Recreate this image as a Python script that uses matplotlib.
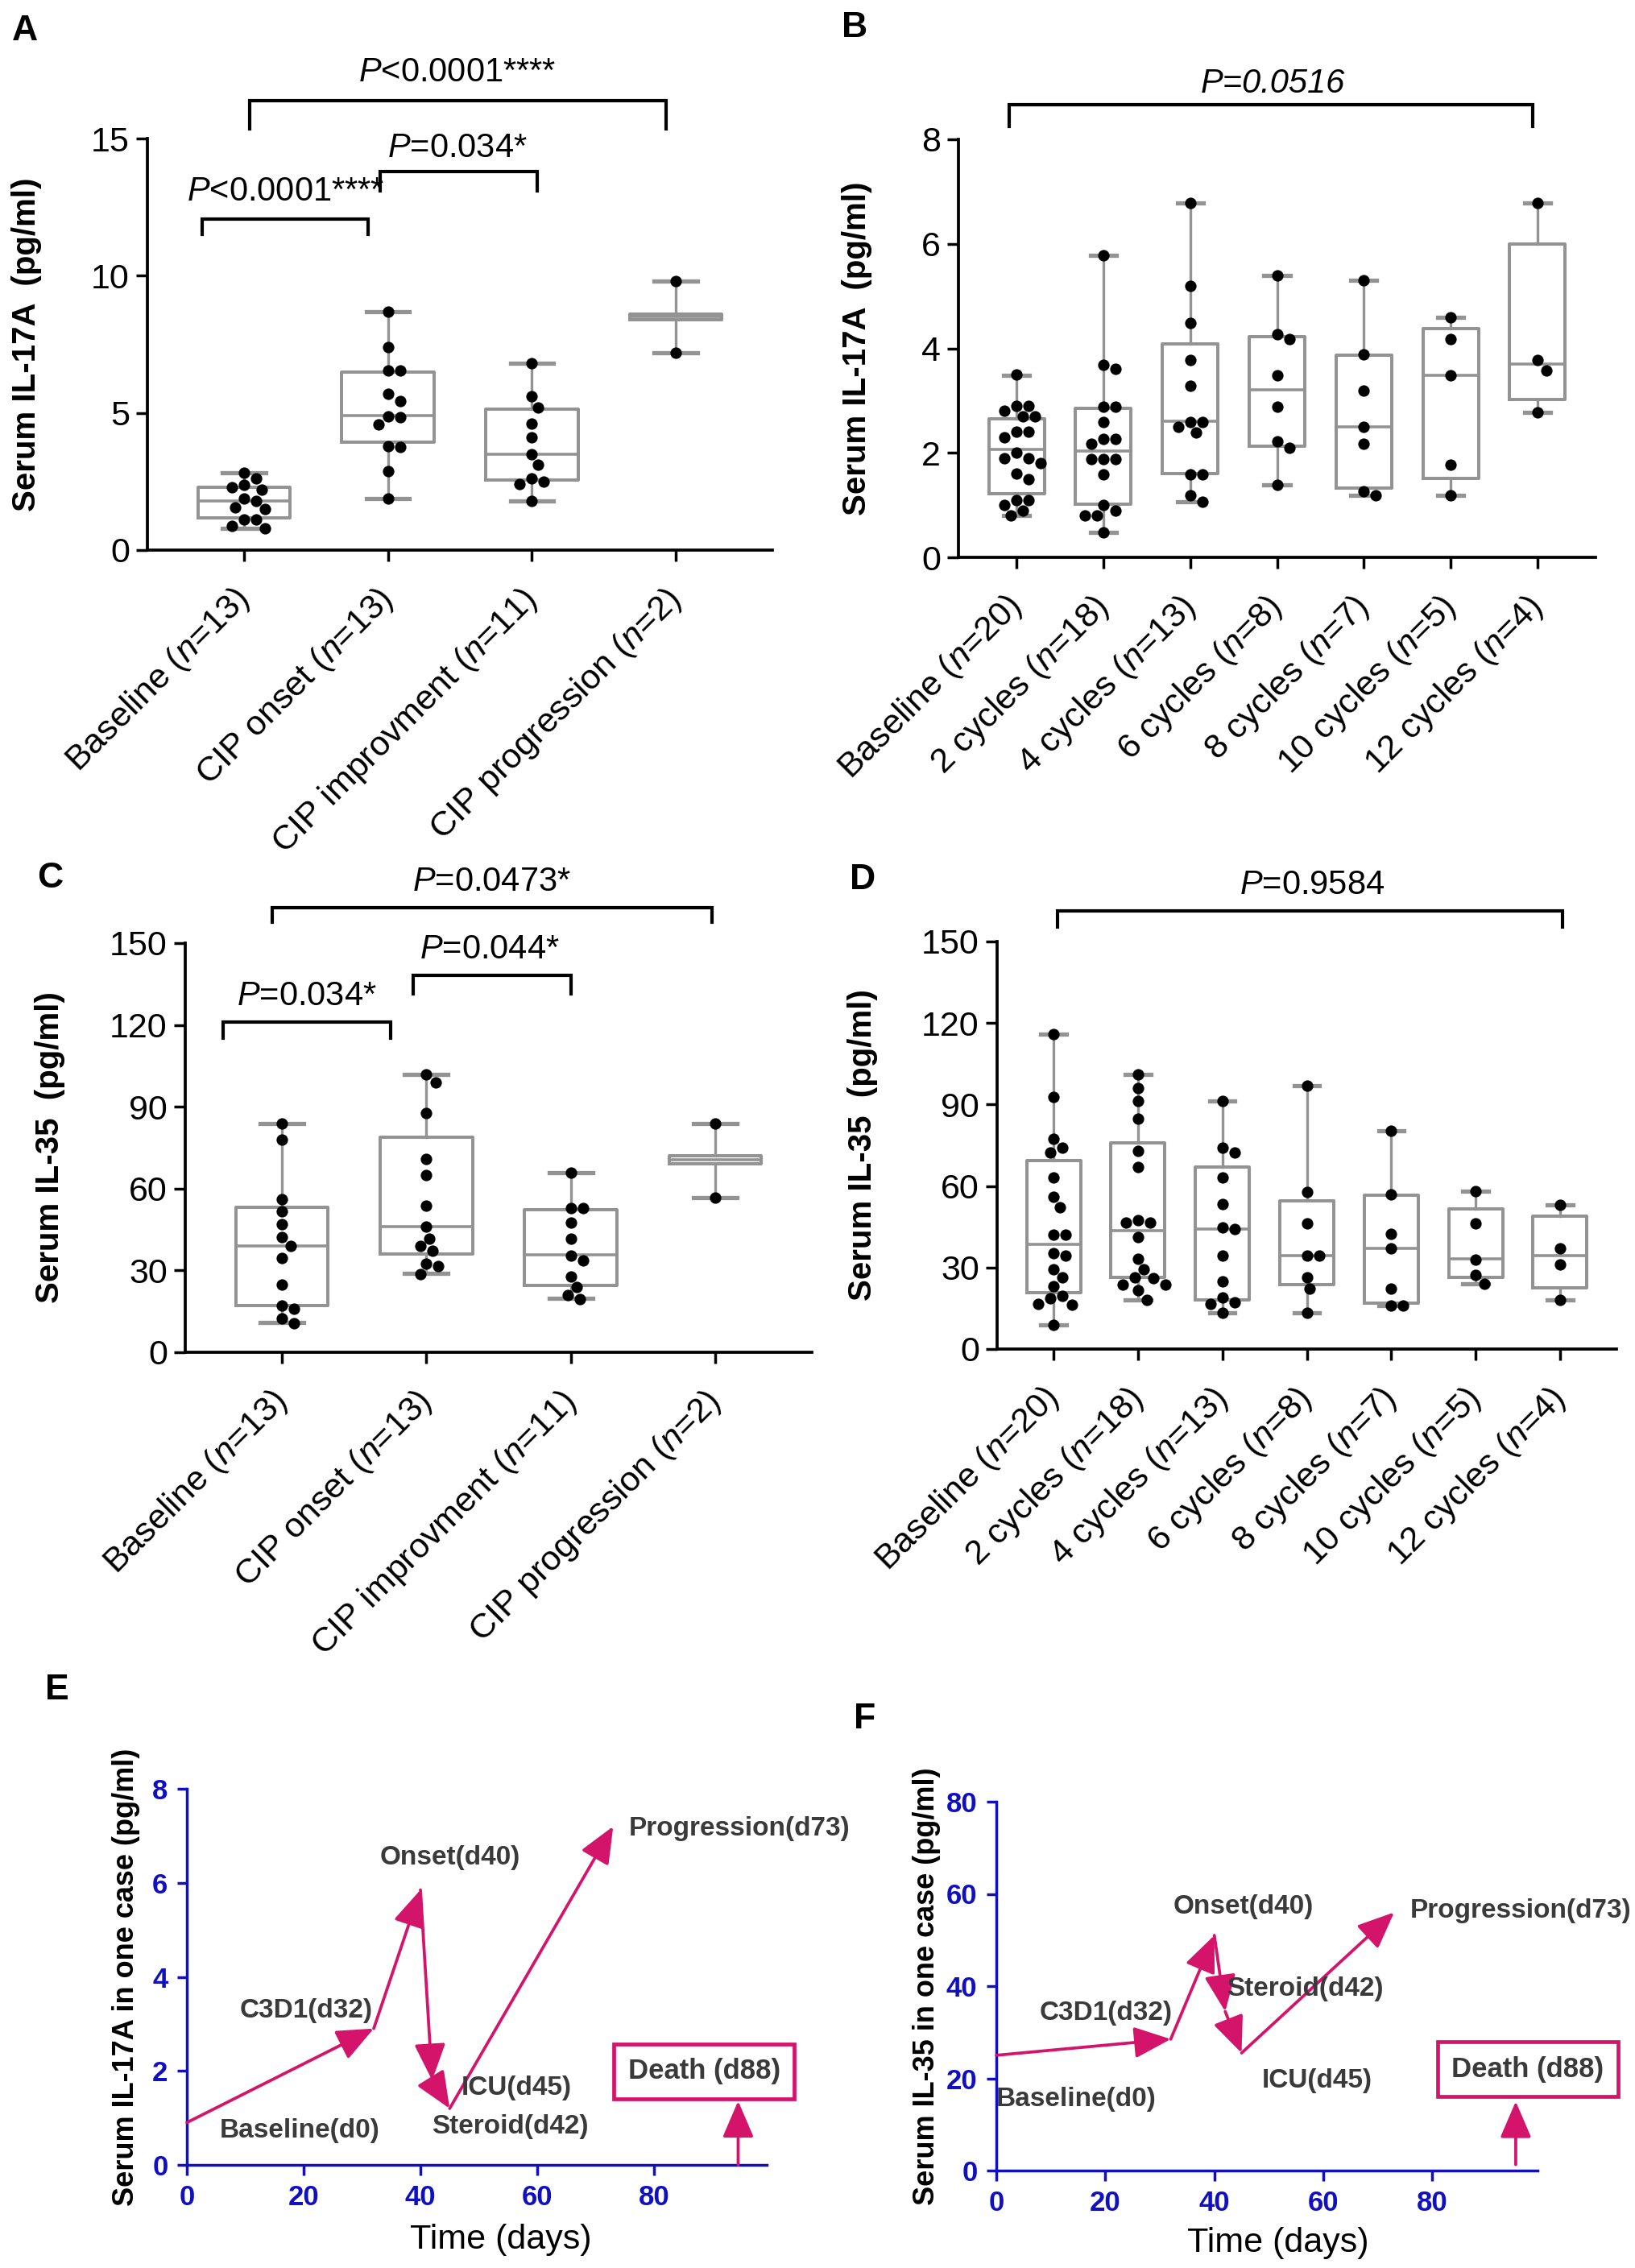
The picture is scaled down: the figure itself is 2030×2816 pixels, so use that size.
import numpy as np
import matplotlib
matplotlib.use("Agg")
import matplotlib.pyplot as plt

plt.rcParams.update({
    "font.family": ["Liberation Sans", "DejaVu Sans"],
    "mathtext.fontset": "custom",
    "mathtext.rm": "Liberation Sans",
    "mathtext.it": "Liberation Sans:italic",
    "mathtext.bf": "Liberation Sans:bold",
})

# ---------------- data ----------------
A_names = ["Baseline", "CIP onset", "CIP improvment", "CIP progression"]
A_n = [13, 13, 11, 2]
A_pts = [
    [2.83, 2.6, 2.39, 2.29, 2.19, 1.88, 1.80, 1.57, 1.5, 1.12, 1.12, 0.89, 0.78],
    [8.68, 7.40, 6.55, 6.55, 5.69, 5.42, 4.88, 4.84, 4.57, 3.79, 3.77, 2.87, 1.88],
    [6.8, 5.6, 5.2, 4.6, 4.1, 3.5, 3.1, 2.6, 2.5, 2.4, 1.8],
    [9.8, 7.2],
]
A_q1 = [1.18, 3.93, 2.56, 8.4]
A_med = [1.80, 4.91, 3.50, 8.5]
A_q3 = [2.29, 6.50, 5.15, 8.6]
A_lo = [0.8, 1.88, 1.8, 7.2]
A_hi = [2.83, 8.68, 6.8, 9.8]

B_names = ["Baseline", "2 cycles", "4 cycles", "6 cycles", "8 cycles", "10 cycles", "12 cycles"]
B_n = [20, 18, 13, 8, 7, 5, 4]
B_pts = [
    [3.5, 2.9, 2.9, 2.8, 2.7, 2.7, 2.4, 2.4, 2.3, 2.0, 1.9, 1.9, 1.8, 1.6, 1.5, 1.1, 1.1, 1.0, 0.9, 0.8],
    [5.78, 3.68, 3.60, 2.89, 2.89, 2.59, 2.27, 2.27, 2.18, 1.88, 1.88, 1.88, 1.58, 1.0, 0.89, 0.80, 0.80, 0.48],
    [6.78, 5.19, 4.48, 3.77, 3.28, 2.39, 2.49, 2.59, 2.59, 1.58, 1.58, 1.19, 1.07],
    [5.4, 4.18, 4.27, 3.49, 2.89, 2.22, 2.09, 1.38],
    [5.3, 3.88, 3.19, 2.49, 2.18, 1.27, 1.18],
    [4.59, 4.18, 3.48, 1.78, 1.18],
    [6.78, 3.77, 3.58, 2.77],
]
B_q1 = [1.22, 1.01, 1.61, 2.13, 1.33, 1.51, 3.02]
B_med = [2.07, 2.04, 2.61, 3.21, 2.50, 3.49, 3.70]
B_q3 = [2.65, 2.85, 4.09, 4.23, 3.87, 4.38, 6.0]
B_lo = [0.8, 0.48, 1.07, 1.38, 1.18, 1.18, 2.77]
B_hi = [3.49, 5.78, 6.78, 5.4, 5.3, 4.59, 6.78]

C_names = A_names
C_n = A_n
C_pts = [
    [84.0, 77.9, 56.2, 51.7, 46.9, 42.1, 38.9, 34.5, 24.9, 17.2, 16.0, 12.5, 10.5],
    [101.9, 98.9, 87.8, 70.9, 64.9, 53.6, 46.0, 38.9, 41.7, 37.3, 32.6, 31.5, 28.5],
    [65.7, 53.0, 53.0, 47.6, 41.7, 35.5, 33.6, 27.8, 24.0, 21.1, 19.5],
    [84.0, 56.6],
]
C_q1 = [17.0, 36.1, 24.5, 69.0]
C_med = [38.9, 46.0, 35.7, 70.5]
C_q3 = [53.2, 78.9, 52.3, 72.0]
C_lo = [10.9, 29.0, 19.8, 56.6]
C_hi = [84.0, 101.9, 65.7, 84.0]

D_names = B_names
D_n = B_n
D_pts = [
    [115.8, 92.7, 77.3, 74.2, 72.2, 63.2, 56.1, 52.3, 42.1, 42.1, 35.3, 34.3, 29.3, 26.3, 23.1,
     19.5, 18.6, 16.7, 16.3, 9.0],
    [101.1, 96.1, 91.2, 84.8, 72.9, 67.0, 47.3, 46.5, 46.5, 41.1, 33.1, 29.3, 26.3, 26.1, 23.8,
     23.8, 21.6, 18.2],
    [91.2, 74.2, 72.2, 63.2, 53.3, 44.9, 44.3, 34.4, 25.0, 18.9, 17.3, 16.7, 13.2],
    [97.0, 57.8, 46.2, 34.4, 34.4, 26.3, 22.1, 13.2],
    [80.3, 56.9, 42.4, 37.2, 22.2, 16.1, 16.1],
    [58.0, 46.2, 33.0, 27.2, 24.1],
    [53.0, 37.2, 31.1, 18.0],
]
D_q1 = [20.8, 26.3, 18.2, 23.8, 16.9, 26.3, 22.5]
D_med = [38.5, 43.7, 44.3, 34.4, 37.2, 33.1, 34.4]
D_q3 = [69.3, 75.8, 67.0, 54.6, 56.5, 51.6, 48.8]
D_lo = [9.0, 18.2, 13.2, 13.2, 16.1, 24.1, 18.0]
D_hi = [115.8, 101.1, 91.2, 97.0, 80.3, 58.0, 53.0]

events = ["Baseline(d0)", "C3D1(d32)", "Onset(d40)", "Steroid(d42)", "ICU(d45)", "Progression(d73)"]
E_days = [0, 32, 40, 42, 45, 73]
E_vals = [0.9, 2.9, 5.85, 1.8, 1.2, 7.2]
F_days = [0, 32, 40, 42, 45, 73]
F_vals = [25, 28.5, 51, 34.5, 25.5, 56]
death_label = "Death (d88)"

# ---------------- style ----------------
W, H = 2031, 2816
GRAY = "#939393"
MAG = "#D4146B"
BLUE = "#1010C0"
TXT = "#3a3a3a"

fig = plt.figure(figsize=(W / 100, H / 100), dpi=100)


def ax_px(l, t, r, b):
    return fig.add_axes([l / W, 1 - b / H, (r - l) / W, (b - t) / H])


def swarm(ax, xc, vals, diam):
    pts = ax.transData.transform(np.column_stack([np.full(len(vals), xc), vals]))
    x0 = pts[0, 0]
    ys = pts[:, 1]
    order = np.argsort(-ys)
    placed = []
    xs = np.zeros(len(vals))
    step = diam * 0.25
    for i in order:
        y = ys[i]
        cands = [0.0]
        for k in range(1, 80):
            cands += [k * step, -k * step]
        for dx in cands:
            ok = True
            for (px, py) in placed:
                if (x0 + dx - px) ** 2 + (y - py) ** 2 < diam ** 2 * 0.95:
                    ok = False
                    break
            if ok:
                break
        placed.append((x0 + dx, y))
        xs[i] = x0 + dx
    back = ax.transData.inverted().transform(np.column_stack([xs, ys]))
    return back[:, 0]


def box_panel(ax, pts, q1, med, q3, lo, hi, names, ns, yticks, ylim, ylabel, ylab_x):
    n = len(pts)
    ax.set_xlim(-0.67, n - 0.33)
    ax.set_ylim(*ylim)
    stats = [dict(med=med[i], q1=q1[i], q3=q3[i], whislo=lo[i], whishi=hi[i], fliers=[])
             for i in range(n)]
    ax.bxp(stats, positions=list(range(n)), widths=0.64, capwidths=0.3, showfliers=False,
           boxprops=dict(color=GRAY, linewidth=2.9, zorder=2),
           whiskerprops=dict(color=GRAY, linewidth=2.4, zorder=2),
           capprops=dict(color=GRAY, linewidth=3.8, zorder=2),
           medianprops=dict(color=GRAY, linewidth=2.6, zorder=2),
           manage_ticks=False)
    for i in range(n):
        xs = swarm(ax, i, pts[i], 15.0)
        ax.scatter(xs, pts[i], s=105, color="black", zorder=3, linewidths=0, clip_on=False)
    for s in ["top", "right"]:
        ax.spines[s].set_visible(False)
    for s in ["left", "bottom"]:
        ax.spines[s].set_linewidth(2.7)
    ax.set_yticks(yticks)
    ax.set_xticks(range(n))
    ax.set_xticklabels([f"{nm} ($n$={k})" for nm, k in zip(names, ns)])
    ax.tick_params(axis="both", direction="out", length=10, width=2.5, labelsize=31, pad=6)
    for lbl in ax.get_xticklabels():
        lbl.set_rotation(45)
        lbl.set_ha("right")
        lbl.set_va("center")
        lbl.set_rotation_mode("anchor")
    ax.tick_params(axis="x", pad=30)
    ax.set_ylabel(ylabel, fontsize=29, fontweight="bold", va="center")
    ax.yaxis.set_label_coords(ylab_x, 0.5)


def bracket(ax, x0, x1, ytop, yleg, text, ty, tx, italic_all=False):
    ax.plot([x0, x0, x1, x1], [yleg, ytop, ytop, yleg], color="black", lw=3.0,
            clip_on=False, solid_joinstyle="miter")
    ax.text(tx, ty, text, fontsize=30, ha="center", va="center",
            fontstyle="italic" if italic_all else "normal", clip_on=False)


# ---- Panel A ----
axA = ax_px(183, 172, 959, 683)
box_panel(axA, A_pts, A_q1, A_med, A_q3, A_lo, A_hi, A_names, A_n,
          [0, 5, 10, 15], (0, 15), "Serum IL-17A  (pg/ml)", -150 / 776)
bracket(axA, 0.04, 2.93, 16.39, 15.34, "$P$<0.0001****", 17.42, 1.48)
bracket(axA, 0.946, 2.035, 13.79, 13.08, "$P$=0.034*", 14.66, 1.48)
bracket(axA, -0.29, 0.86, 12.07, 11.5, "$P$<0.0001****", 13.05, 0.29)

# ---- Panel B ----
axB = ax_px(1190, 173, 1981, 692)
box_panel(axB, B_pts, B_q1, B_med, B_q3, B_lo, B_hi, B_names, B_n,
          [0, 2, 4, 6, 8], (0, 8), "Serum IL-17A  (pg/ml)", -126 / 791)
bracket(axB, -0.09, 5.95, 8.66, 8.25, "P=0.0516", 9.06, 2.95, italic_all=True)

# ---- Panel C ----
axC = ax_px(230, 1171, 1008, 1679)
box_panel(axC, C_pts, C_q1, C_med, C_q3, C_lo, C_hi, C_names, C_n,
          [0, 30, 60, 90, 120, 150], (0, 150), "Serum IL-35  (pg/ml)", -168 / 778)
bracket(axC, -0.07, 2.98, 163, 157.7, "$P$=0.0473*", 172.4, 1.45)
bracket(axC, 0.91, 2.0, 138.2, 131.4, "$P$=0.044*", 147.6, 1.44)
bracket(axC, -0.41, 0.75, 121, 115.1, "$P$=0.034*", 130.5, 0.17)

# ---- Panel D ----
axD = ax_px(1238, 1169, 2007, 1675)
box_panel(axD, D_pts, D_q1, D_med, D_q3, D_lo, D_hi, D_names, D_n,
          [0, 30, 60, 90, 120, 150], (0, 150), "Serum IL-35  (pg/ml)", -167 / 769)
bracket(axD, 0.05, 6.03, 161.2, 155.4, "$P$=0.9584", 170.8, 3.06)


# ---- Panels E / F ----
def case_panel(ax, days, vals, ylim, yticks, ylabel, lab_pos, death_x, death_y0, death_y1,
               death_box, ylab_x, xlab_xy):
    ax.set_xlim(0, 99.3)
    ax.set_ylim(*ylim)
    for s in ["top", "right"]:
        ax.spines[s].set_visible(False)
    for s in ["left", "bottom"]:
        ax.spines[s].set_color(BLUE)
        ax.spines[s].set_linewidth(2.5)
    ax.set_xticks([0, 20, 40, 60, 80])
    ax.set_yticks(yticks)
    ax.tick_params(axis="both", colors=BLUE, length=9, width=2.5, labelsize=25, pad=8)
    for lbl in ax.get_xticklabels() + ax.get_yticklabels():
        lbl.set_fontweight("bold")
    ax.set_ylabel(ylabel, fontsize=26, fontweight="bold", va="center")
    ax.yaxis.set_label_coords(ylab_x, 0.5)
    ax.set_xlabel("Time (days)", fontsize=31, va="center")
    ax.xaxis.set_label_coords(*xlab_xy)
    ap = dict(arrowstyle="-|>,head_length=1.4,head_width=0.6", color=MAG, lw=2.7,
              shrinkA=0, shrinkB=0, mutation_scale=20)
    for i in range(len(days) - 1):
        ax.annotate("", xy=(days[i + 1], vals[i + 1]), xytext=(days[i], vals[i]),
                    arrowprops=ap, annotation_clip=False)
    for name, (lx, ly, ha) in zip(events, lab_pos):
        ax.text(lx, ly, name, fontsize=24, fontweight="bold", color=TXT, ha=ha, va="center",
                clip_on=False)
    ax.annotate("", xy=(death_x, death_y1), xytext=(death_x, death_y0), arrowprops=ap,
                annotation_clip=False)
    ax.text(death_box[0], death_box[1], death_label, fontsize=25, fontweight="bold", color=TXT,
            ha="center", va="center", clip_on=False,
            bbox=dict(boxstyle="square,pad=0.5", facecolor="white", edgecolor=MAG, linewidth=3.4))


axE = ax_px(232, 2221, 952, 2688)
case_panel(axE, E_days, E_vals, (0, 8), [0, 2, 4, 6, 8], "Serum IL-17A in one case (pg/ml)",
           [(19.3, 0.72, "center"), (20.4, 3.28, "center"), (45.1, 6.54, "center"),
            (55.4, 0.82, "center"), (56.4, 1.64, "center"), (75.7, 7.15, "left")],
           94.4, 0, 1.36, (88.6, 1.99), -75 / 720, (0.542, -0.2))

axF = ax_px(1237, 2237, 1909, 2695)
case_panel(axF, F_days, F_vals, (0, 80), [0, 20, 40, 60, 80], "Serum IL-35 in one case (pg/ml)",
           [(14.6, 15.5, "center"), (20.1, 34.2, "center"), (45.4, 57.2, "center"),
            (56.7, 39.4, "center"), (58.8, 19.5, "center"), (75.9, 56.3, "left")],
           95.3, 1.3, 15.0, (97.5, 21.95), -87 / 672, (0.52, -0.197))

# panel letters
for letter, (px, py) in zip("ABCDEF", [(31, 39), (1061, 34), (62, 1091), (1071, 1093),
                                        (71, 2099), (1074, 2134)]):
    fig.text(px / W, 1 - py / H, letter, fontsize=32, fontweight="bold", ha="center", va="center")

fig.savefig("out.png", dpi=100)
